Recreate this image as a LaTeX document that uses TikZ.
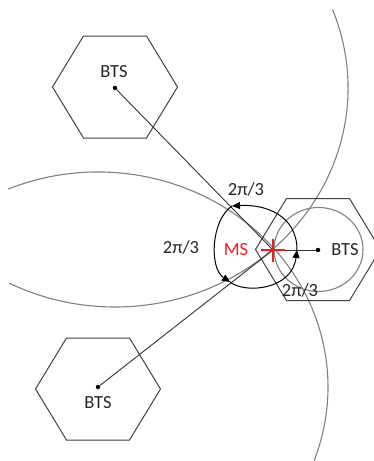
\documentclass[tikz,border=0pt]{standalone}
\usepackage{fontspec}
\setmainfont{Carlito}
\usetikzlibrary{arrows.meta,calc}
\definecolor{msred}{RGB}{235,30,30}
\begin{document}
\begin{tikzpicture}[x=1pt,y=-1pt,
  hexa/.style={draw=black!75, line width=1pt},
  rangecircle/.style={draw=black!50, line width=1.1pt},
  link/.style={draw=black!80, line width=0.9pt},
  turn/.style={draw=black, line width=1pt, -{Triangle[length=8pt,width=7pt]}},
  bts/.style={circle, fill=black, inner sep=0pt, minimum size=4.5pt},
  mscross/.style={draw=msred, line width=2.2pt},
  lbl/.style={font=\fontsize{18.5}{20}\selectfont, text=black!85, inner sep=0pt, anchor=base},
  hexcell/.pic={\draw[hexa] (62.5,0) -- (31.5,-51) -- (-31.5,-51) -- (-62.5,0) -- (-31.5,51) -- (31.5,51) -- cycle;}
]
\useasboundingbox (0,0) rectangle (374,461);
\clip (0,0) rectangle (374,461);

% base stations
\node[bts] (b1) at (115,88) {};
\node[bts] (b2) at (98,387) {};
\node[bts] (b3) at (318,250) {};
\coordinate (ms) at (273,250);

% range circles
\draw[rangecircle] ($(b1)+(-21:233 and 219)$) arc[start angle=-21,end angle=117,x radius=233,y radius=219];
\draw[rangecircle] ($(b2)+(-113:230 and 215)$) arc[start angle=-113,end angle=20,x radius=230,y radius=215];
\draw[rangecircle] (318.5,249.5) ellipse[x radius=44.5, y radius=42];

% cells
\pic at (115,87) {hexcell};
\pic at (98,389) {hexcell};
\pic at (318,249.5) {hexcell};

% links
\draw[link] (b1) -- (ms);
\draw[link] (b2) -- (ms);
\draw[link] (b3) -- (ms);

% angle arcs
\coordinate (p1) at (297,250);
\coordinate (p2) at (232,206);
\coordinate (p3) at (230,282);
\draw[turn] (p1) .. controls (297,215) and (265,204) .. (p2);
\draw[turn] (p2) .. controls (211,220) and (209,268) .. (p3);
\draw[turn] (p3) .. controls (245,294) and (292,290) .. (p1);

% MS cross
\coordinate (cl) at ($(ms)+(-12,0)$);
\coordinate (cr) at ($(ms)+(12,0)$);
\coordinate (ct) at ($(ms)+(0,-11.5)$);
\coordinate (cb) at ($(ms)+(0,11.5)$);
\draw[mscross] (cl) -- (cr);
\draw[mscross] (ct) -- (cb);

% labels
\node[lbl] (t1) at (114,77) {BTS};
\node[lbl] (t2) at (98,408) {BTS};
\node[lbl] (t3) at (345,255) {BTS};
\node[lbl, text=msred] (tms) at (236,255) {MS};
\node[lbl] (a1) at (246,195) {2π/3};
\node[lbl] (a2) at (181,253) {2π/3};
\node[lbl] (a3) at (300,296) {2π/3};
\end{tikzpicture}
\end{document}
